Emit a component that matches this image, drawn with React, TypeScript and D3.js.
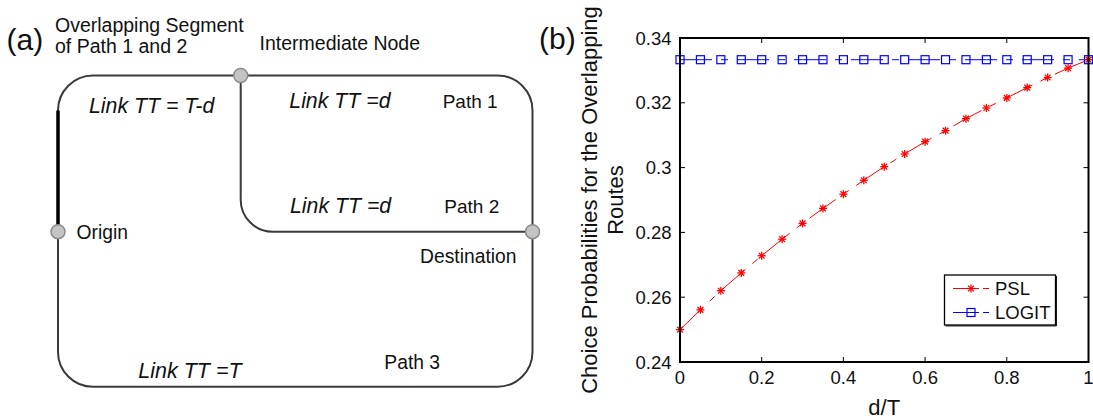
import React, { useEffect } from 'react';
import * as d3 from 'd3';

// d/T ratio of the overlapping segment
const ratio = [0, 0.05, 0.1, 0.15, 0.2, 0.25, 0.3, 0.35, 0.4, 0.45, 0.5, 0.55, 0.6, 0.65, 0.7, 0.75, 0.8, 0.85, 0.9, 0.95, 1];
// choice probabilities of the overlapping routes
const pslProb = [0.25, 0.2561, 0.262, 0.2675, 0.2728, 0.2779, 0.2828, 0.2874, 0.2918, 0.2961, 0.3003, 0.3042, 0.308, 0.3114, 0.3151, 0.3184, 0.3215, 0.3247, 0.3278, 0.3307, 0.3333];
const logitProb = [0.3333, 0.3333, 0.3333, 0.3333, 0.3333, 0.3333, 0.3333, 0.3333, 0.3333, 0.3333, 0.3333, 0.3333, 0.3333, 0.3333, 0.3333, 0.3333, 0.3333, 0.3333, 0.3333, 0.3333, 0.3333];

const xTicks = [0, 0.2, 0.4, 0.6, 0.8, 1];
const xTickLabels = ['0', '0.2', '0.4', '0.6', '0.8', '1'];
const yTicks = [0.24, 0.26, 0.28, 0.3, 0.32, 0.34];
const yTickLabels = ['0.24', '0.26', '0.28', '0.3', '0.32', '0.34'];

const seriesNames = ['PSL', 'LOGIT'];

const FONT = "'Liberation Sans', Arial, Helvetica, sans-serif";
const INK = '#111';

const W = 1093;
const H = 419;

// plot frame of panel (b)
const PL = 680;
const PR = 1088.5;
const PT = 38;
const PB = 362;

const DASH = '32 9 7 9';

function Asterisk({ cx, cy, s }: { cx: number; cy: number; s: number }) {
  const d = s * 0.72;
  return (
    <g stroke="#ff0000" strokeWidth={1.3}>
      <line x1={cx - s} y1={cy} x2={cx + s} y2={cy} />
      <line x1={cx} y1={cy - s} x2={cx} y2={cy + s} />
      <line x1={cx - d} y1={cy - d} x2={cx + d} y2={cy + d} />
      <line x1={cx - d} y1={cy + d} x2={cx + d} y2={cy - d} />
    </g>
  );
}

function Square({ cx, cy, s }: { cx: number; cy: number; s: number }) {
  return <rect x={cx - s} y={cy - s} width={2 * s} height={2 * s} fill="none" stroke="#0000ff" strokeWidth={1.2} />;
}

function Network() {
  const left = 58;
  const right = 532.5;
  const top = 75.5;
  const bottom = 386.7;
  const r = 35;
  const midX = 240.7;
  const odY = 231.7;
  const ri = 32;
  const lineColor = '#3a3a3a';
  const inner = `M ${midX} ${top} V ${odY - ri} A ${ri} ${ri} 0 0 0 ${midX + ri} ${odY} H ${right}`;
  const nodes = [
    [midX, top],
    [left, odY],
    [right, odY],
  ];
  const sans = { fontFamily: FONT, fill: INK };
  return (
    <g>
      <rect x={left} y={top} width={right - left} height={bottom - top} rx={r} ry={r} fill="none" stroke={lineColor} strokeWidth={2} />
      <path d={inner} fill="none" stroke={lineColor} strokeWidth={2} />
      <line x1={left} y1={top + r} x2={left} y2={odY} stroke="#000" strokeWidth={3.5} />
      {nodes.map(([x, y], i) => (
        <circle key={i} cx={x} cy={y} r={7} fill="#c4c4c4" stroke="#8c8c8c" strokeWidth={1.5} />
      ))}
      <text x={6.5} y={50} fontSize={30} {...sans}>(a)</text>
      <text x={55} y={31.7} fontSize={19.5} {...sans}>Overlapping Segment</text>
      <text x={55} y={53.3} fontSize={19.5} {...sans}>of Path 1 and 2</text>
      <text x={259.6} y={50} fontSize={19.5} {...sans}>Intermediate Node</text>
      <text x={89} y={113.3} fontSize={21.3} fontStyle="italic" {...sans}>Link TT = T-d</text>
      <text x={289.3} y={108.3} fontSize={21.3} fontStyle="italic" {...sans}>Link TT =d</text>
      <text x={442.7} y={108.3} fontSize={19} {...sans}>Path 1</text>
      <text x={290} y={212.7} fontSize={21.3} fontStyle="italic" {...sans}>Link TT =d</text>
      <text x={444.3} y={212.7} fontSize={19} {...sans}>Path 2</text>
      <text x={76.5} y={238.5} fontSize={19.3} {...sans}>Origin</text>
      <text x={420} y={263.3} fontSize={19.3} {...sans}>Destination</text>
      <text x={138.3} y={378.3} fontSize={21.5} fontStyle="italic" {...sans}>Link TT =T</text>
      <text x={384.3} y={369.3} fontSize={19.3} {...sans}>Path 3</text>
    </g>
  );
}

function ProbabilityChart() {
  const x = d3.scaleLinear().domain([0, 1]).range([PL, PR]);
  const y = d3.scaleLinear().domain([0.24, 0.34]).range([PB, PT]);
  const line = d3
    .line<[number, number]>()
    .x((d) => x(d[0]))
    .y((d) => y(d[1]));
  const psl: [number, number][] = ratio.map((r, i) => [r, pslProb[i]]);
  const logit: [number, number][] = ratio.map((r, i) => [r, logitProb[i]]);
  const tickLen = 5;
  const tickFont = 18.5;
  const sans = { fontFamily: FONT, fill: INK };

  const legX = 944.5;
  const legY = 275;
  const legW = 111;
  const legH = 50;
  const rowY = [288.5, 312.5];

  return (
    <g>
      <text x={539} y={49} fontSize={30} {...sans}>(b)</text>

      {/* data */}
      <path d={line(logit) || ''} fill="none" stroke="#0000ff" strokeWidth={1} strokeDasharray={DASH} />
      {logit.map((d, i) => (
        <Square key={i} cx={x(d[0])} cy={y(d[1])} s={4} />
      ))}
      <path d={line(psl) || ''} fill="none" stroke="#ff0000" strokeWidth={1} strokeDasharray={DASH} />
      {psl.map((d, i) => (
        <Asterisk key={i} cx={x(d[0])} cy={y(d[1])} s={4} />
      ))}

      {/* frame */}
      <rect x={PL} y={PT} width={PR - PL} height={PB - PT} fill="none" stroke="#000" strokeWidth={2} />
      {xTicks.map((t, i) => (
        <g key={`xt${i}`}>
          <line x1={x(t)} x2={x(t)} y1={PB} y2={PB - tickLen} stroke="#000" strokeWidth={1} />
          <line x1={x(t)} x2={x(t)} y1={PT} y2={PT + tickLen} stroke="#000" strokeWidth={1} />
          <text x={x(t)} y={384} fontSize={tickFont} textAnchor="middle" {...sans}>
            {xTickLabels[i]}
          </text>
        </g>
      ))}
      {yTicks.map((t, i) => (
        <g key={`yt${i}`}>
          <line x1={PL} x2={PL + tickLen} y1={y(t)} y2={y(t)} stroke="#000" strokeWidth={1} />
          <line x1={PR} x2={PR - tickLen} y1={y(t)} y2={y(t)} stroke="#000" strokeWidth={1} />
          <text x={671.5} y={y(t) + 6.5} fontSize={tickFont} textAnchor="end" {...sans}>
            {yTickLabels[i]}
          </text>
        </g>
      ))}

      {/* axis titles */}
      <text x={(PL + PR) / 2} y={415} fontSize={22} textAnchor="middle" {...sans}>d/T</text>
      <text transform={`translate(596.5, ${(PT + PB) / 2}) rotate(-90)`} fontSize={22} textAnchor="middle" {...sans}>
        Choice Probabilities for the Overlapping
      </text>
      <text transform={`translate(622.8, ${(PT + PB) / 2}) rotate(-90)`} fontSize={22} textAnchor="middle" {...sans}>
        Routes
      </text>

      {/* legend */}
      <rect x={legX} y={legY} width={legW} height={legH} fill="#fff" stroke="#000" strokeWidth={1.3} />
      <line x1={legX + 1} x2={legX + legW + 0.8} y1={legY + legH + 0.9} y2={legY + legH + 0.9} stroke="#000" strokeWidth={1} />
      <line x1={legX + legW + 0.9} x2={legX + legW + 0.9} y1={legY + 1} y2={legY + legH + 1} stroke="#000" strokeWidth={1} />
      {seriesNames.map((name, i) => (
        <g key={name}>
          <line
            x1={953}
            x2={989}
            y1={rowY[i]}
            y2={rowY[i]}
            stroke={i === 0 ? '#ff0000' : '#0000ff'}
            strokeWidth={1}
            strokeDasharray="26 4 6 4"
          />
          {i === 0 ? <Asterisk cx={971} cy={rowY[i]} s={4} /> : <Square cx={971} cy={rowY[i]} s={4} />}
          <text x={995} y={rowY[i] + 6.5} fontSize={18.5} {...sans}>
            {name}
          </text>
        </g>
      ))}
    </g>
  );
}

export default function App() {
  useEffect(() => {
    document.body.style.margin = '0';
  }, []);
  return (
    <svg width={W} height={H} viewBox={`0 0 ${W} ${H}`} style={{ display: 'block', background: '#fff' }}>
      <rect width={W} height={H} fill="#fff" />
      <Network />
      <ProbabilityChart />
    </svg>
  );
}
